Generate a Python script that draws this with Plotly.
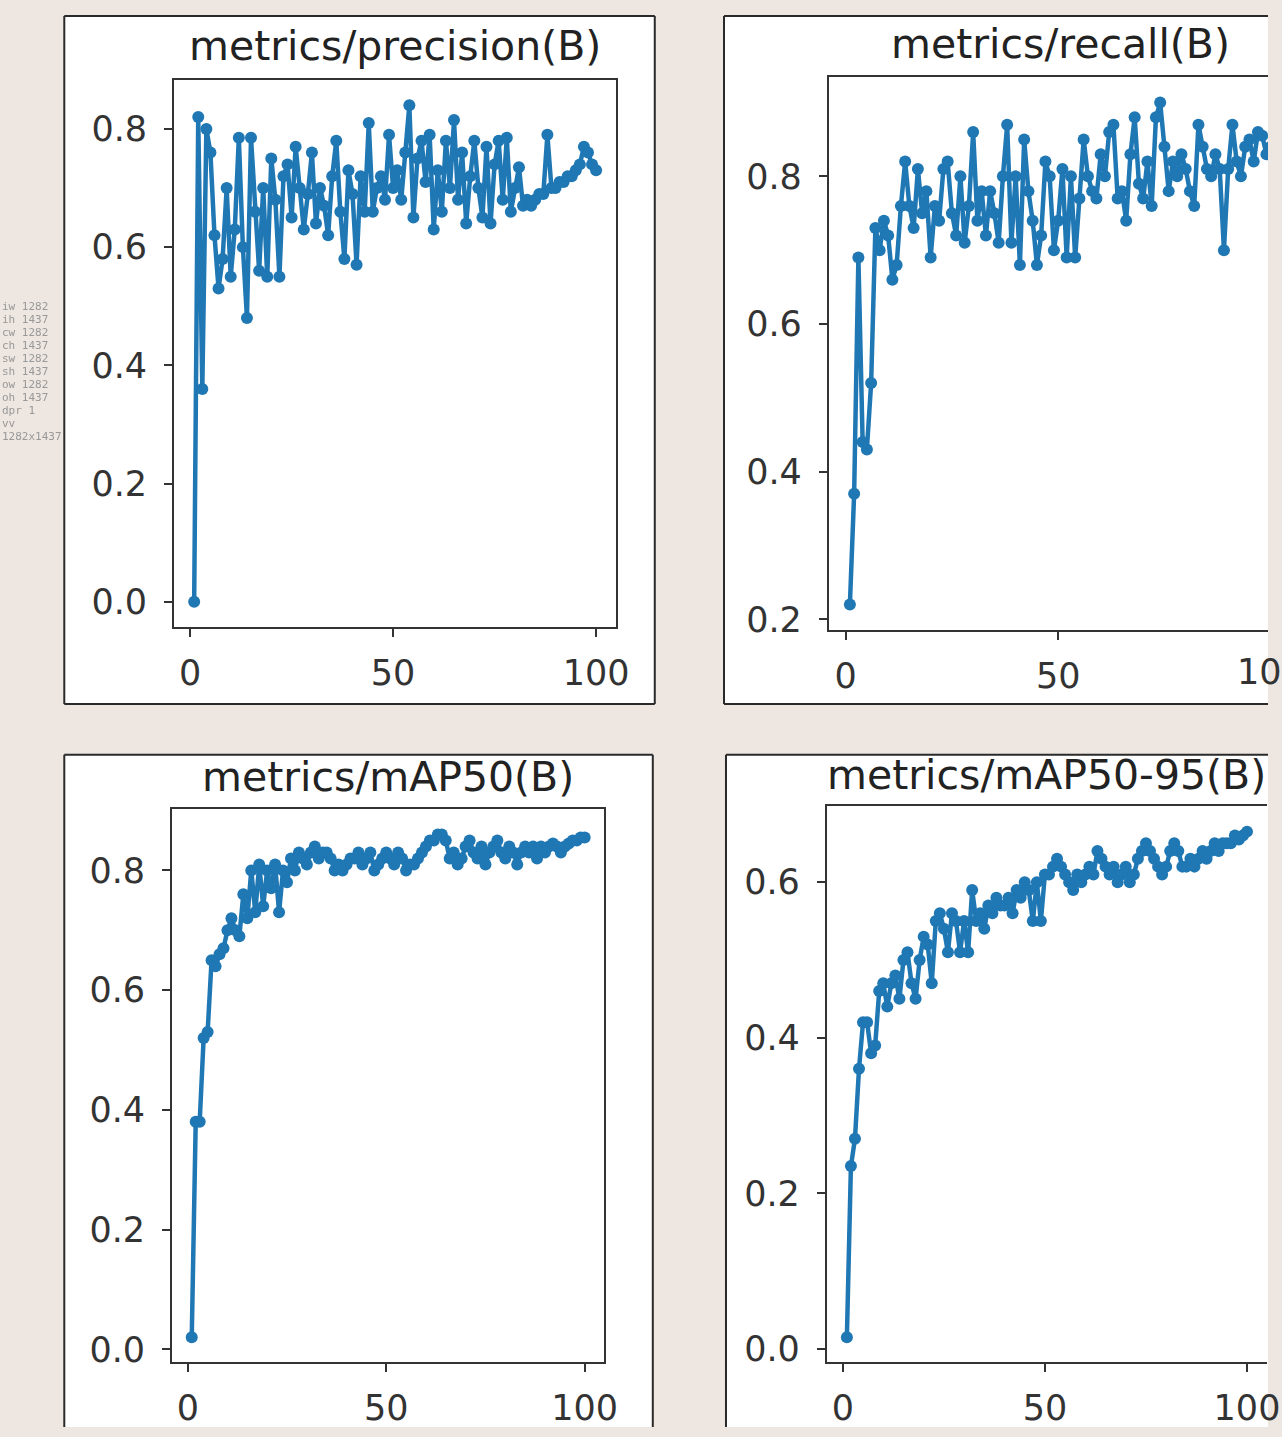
import plotly.graph_objects as go

W, H = 1282, 1437

epochs = list(range(1, 101))

precision = [
    0.00, 0.82, 0.36, 0.80, 0.76, 0.62, 0.53, 0.58, 0.70, 0.55,
    0.63, 0.785, 0.60, 0.48, 0.785, 0.66, 0.56, 0.70, 0.55, 0.75,
    0.68, 0.55, 0.72, 0.74, 0.65, 0.77, 0.70, 0.63, 0.69, 0.76,
    0.64, 0.70, 0.67, 0.62, 0.72, 0.78, 0.66, 0.58, 0.73, 0.69,
    0.57, 0.72, 0.66, 0.81, 0.66, 0.70, 0.72, 0.68, 0.79, 0.70,
    0.73, 0.68, 0.76, 0.84, 0.65, 0.75, 0.78, 0.71, 0.79, 0.63,
    0.73, 0.66, 0.78, 0.70, 0.815, 0.68, 0.76, 0.64, 0.72, 0.78,
    0.70, 0.65, 0.77, 0.64, 0.74, 0.78, 0.68, 0.785, 0.66, 0.70,
    0.735, 0.67, 0.68, 0.67, 0.68, 0.69, 0.69, 0.79, 0.70, 0.70,
    0.71, 0.71, 0.72, 0.72, 0.73, 0.74, 0.77, 0.76, 0.74, 0.73,
]

recall = [
    0.22, 0.37, 0.69, 0.44, 0.43, 0.52, 0.73, 0.70, 0.74, 0.72,
    0.66, 0.68, 0.76, 0.82, 0.76, 0.73, 0.81, 0.75, 0.78, 0.69,
    0.76, 0.74, 0.81, 0.82, 0.75, 0.72, 0.80, 0.71, 0.76, 0.86,
    0.74, 0.78, 0.72, 0.78, 0.75, 0.71, 0.80, 0.87, 0.71, 0.80,
    0.68, 0.85, 0.78, 0.74, 0.68, 0.72, 0.82, 0.80, 0.70, 0.74,
    0.81, 0.69, 0.80, 0.69, 0.77, 0.85, 0.80, 0.78, 0.77, 0.83,
    0.80, 0.86, 0.87, 0.77, 0.78, 0.74, 0.83, 0.88, 0.79, 0.77,
    0.82, 0.76, 0.88, 0.90, 0.84, 0.78, 0.82, 0.80, 0.83, 0.81,
    0.78, 0.76, 0.87, 0.84, 0.81, 0.80, 0.83, 0.81, 0.70, 0.81,
    0.87, 0.82, 0.80, 0.84, 0.85, 0.82, 0.86, 0.855, 0.83, 0.84,
]

map50 = [
    0.02, 0.38, 0.38, 0.52, 0.53, 0.65, 0.64, 0.66, 0.67, 0.70,
    0.72, 0.70, 0.69, 0.76, 0.72, 0.80, 0.73, 0.81, 0.74, 0.80,
    0.77, 0.81, 0.73, 0.80, 0.78, 0.82, 0.80, 0.83, 0.82, 0.81,
    0.83, 0.84, 0.82, 0.83, 0.83, 0.82, 0.80, 0.81, 0.80, 0.81,
    0.82, 0.82, 0.83, 0.81, 0.82, 0.83, 0.80, 0.81, 0.82, 0.83,
    0.82, 0.81, 0.83, 0.82, 0.80, 0.81, 0.81, 0.82, 0.83, 0.84,
    0.85, 0.85, 0.86, 0.86, 0.85, 0.82, 0.83, 0.81, 0.82, 0.84,
    0.85, 0.83, 0.82, 0.84, 0.81, 0.83, 0.84, 0.85, 0.83, 0.82,
    0.84, 0.83, 0.81, 0.83, 0.84, 0.83, 0.84, 0.82, 0.84, 0.83,
    0.84, 0.845, 0.84, 0.83, 0.84, 0.845, 0.85, 0.85, 0.855, 0.855,
]

map50_95 = [
    0.015, 0.235, 0.27, 0.36, 0.42, 0.42, 0.38, 0.39, 0.46, 0.47,
    0.44, 0.47, 0.48, 0.45, 0.50, 0.51, 0.47, 0.45, 0.50, 0.53,
    0.52, 0.47, 0.55, 0.56, 0.54, 0.51, 0.56, 0.55, 0.51, 0.55,
    0.51, 0.59, 0.55, 0.56, 0.54, 0.57, 0.56, 0.58, 0.57, 0.57,
    0.58, 0.56, 0.59, 0.58, 0.60, 0.59, 0.55, 0.60, 0.55, 0.61,
    0.61, 0.62, 0.63, 0.62, 0.61, 0.60, 0.59, 0.61, 0.60, 0.61,
    0.62, 0.61, 0.64, 0.63, 0.62, 0.61, 0.62, 0.60, 0.61, 0.62,
    0.60, 0.61, 0.63, 0.64, 0.65, 0.64, 0.63, 0.62, 0.61, 0.62,
    0.64, 0.65, 0.64, 0.62, 0.62, 0.63, 0.62, 0.63, 0.64, 0.63,
    0.64, 0.65, 0.64, 0.65, 0.65, 0.65, 0.66, 0.655, 0.66, 0.665,
]

titles = ["metrics/precision(B)", "metrics/recall(B)", "metrics/mAP50(B)", "metrics/mAP50-95(B)"]
series = [precision, recall, map50, map50_95]
x_ticks = [0, 50, 100]
y_ticks = [
    [0.0, 0.2, 0.4, 0.6, 0.8],
    [0.2, 0.4, 0.6, 0.8],
    [0.0, 0.2, 0.4, 0.6, 0.8],
    [0.0, 0.2, 0.4, 0.6],
]

BG = "#ede6e1"
BLUE = "#1f77b4"
AX = "#333333"
BOX = "#2a2a2a"
FONT = "DejaVu Sans"


def fx(px):
    return min(max(px / W, 0.0), 1.0)


def fy(py):
    return min(max(1 - py / H, 0.0), 1.0)


panels = [
    dict(box=(65, 16, 662, 709), plot=(176, 81, 623, 631), xr=(-3.95, 104.95), yr=(-0.042, 0.882), right=True),
    dict(box=(732, 16, 1400, 709), plot=(838, 78, 1306, 634), xr=(-3.95, 104.95), yr=(0.186, 0.934), right=False),
    dict(box=(65, 760, 660, 1500), plot=(174, 815, 611, 1372), xr=(-3.95, 104.95), yr=(-0.022, 0.902), right=True),
    dict(box=(734, 760, 1400, 1500), plot=(836, 812, 1281, 1372), xr=(-3.95, 104.95), yr=(-0.0175, 0.6975), right=False),
]
title_pos = [(399, 46), (1072, 44), (392, 782), (1058, 780)]

fig = go.Figure()
shapes = []
annotations = []
layout = {}


def seg(xa0, ya0, xa1, ya1):
    return dict(type="line", xref="paper", yref="paper",
                x0=fx(xa0), y0=fy(ya0), x1=fx(xa1), y1=fy(ya1),
                line=dict(color=BOX, width=2), layer="below")


for i, (p, ys, t) in enumerate(zip(panels, series, titles)):
    n = "" if i == 0 else str(i + 1)
    xa, ya = "x" + n, "y" + n
    fig.add_trace(go.Scatter(
        x=epochs, y=ys, xaxis=xa, yaxis=ya, mode="lines+markers",
        line=dict(color=BLUE, width=4.5),
        marker=dict(color=BLUE, size=12, symbol="circle"),
        showlegend=False, cliponaxis=True,
    ))
    x0, y0, x1, y1 = p["plot"]
    d0, d1 = x0 / W, x1 / W
    a, b = p["xr"]
    d1c = min(d1, 1.0)
    xmax = a + (b - a) * (d1c - d0) / (d1 - d0)
    layout["xaxis" + n] = dict(
        domain=[d0, d1c], range=[a, xmax], anchor=ya,
        tickvals=x_ticks, ticktext=[str(v) for v in x_ticks],
        ticks="outside", ticklen=8, tickwidth=2, tickcolor=AX,
        showline=True, linecolor=AX, linewidth=2, mirror=True,
        showgrid=False, zeroline=False,
        tickfont=dict(family=FONT, size=35, color=AX),
        ticklabelstandoff=6, ticklabeloverflow="allow",
    )
    layout["yaxis" + n] = dict(
        domain=[fy(y1), fy(y0)], range=list(p["yr"]), anchor=xa,
        tickvals=y_ticks[i], ticktext=["%.1f" % v for v in y_ticks[i]],
        ticks="outside", ticklen=8, tickwidth=2, tickcolor=AX,
        showline=True, linecolor=AX, linewidth=2, mirror=p["right"],
        showgrid=False, zeroline=False,
        tickfont=dict(family=FONT, size=35, color=AX),
        ticklabelstandoff=10,
    )
    bx0, by0, bx1, by1 = p["box"]
    shapes.append(dict(
        type="rect", xref="paper", yref="paper",
        x0=fx(bx0), x1=fx(bx1), y0=fy(by1), y1=fy(by0),
        fillcolor="white", line=dict(width=0), layer="below",
    ))
    ex, ey = min(bx1, W), min(by1, H)
    shapes.append(seg(bx0, by0, ex, by0))
    shapes.append(seg(bx0, by0, bx0, ey))
    if bx1 <= W:
        shapes.append(seg(bx1, by0, bx1, ey))
    if by1 <= H:
        shapes.append(seg(bx0, by1, ex, by1))
    tx, ty = title_pos[i]
    annotations.append(dict(
        text=t, xref="paper", yref="paper", x=tx / W, y=1 - ty / H,
        xanchor="center", yanchor="middle", showarrow=False,
        font=dict(family=FONT, size=41, color="#222222"),
    ))

annotations.append(dict(
    text=str(x_ticks[-1]), xref="paper", yref="paper", x=1285 / W, y=1 - 677 / H,
    xanchor="center", yanchor="middle", showarrow=False,
    font=dict(family=FONT, size=35, color=AX),
))

fig.update_layout(
    width=W, height=H, margin=dict(l=0, r=0, t=0, b=0),
    paper_bgcolor=BG, plot_bgcolor="white",
    shapes=shapes, annotations=annotations, showlegend=False,
    **layout,
)

# page setup; also writes the browser's window metrics in tiny grey text in the
# empty beige strip at the far left so the page size can be checked
fig.write_html(
    "out.html",
    config={"displayModeBar": False},
    post_script=(
        "document.body.style.margin='0px';"
        "document.body.style.background='" + BG + "';"
        "document.documentElement.style.overflow='hidden';"
        "document.body.style.overflow='hidden';"
        "var gd=document.getElementById('{plot_id}');gd.style.overflow='hidden';"
        "gd.querySelectorAll('.svg-container,.main-svg').forEach(function(e){e.style.overflow='hidden';});"
        "var de=document.documentElement;"
        "var info=['iw '+window.innerWidth,'ih '+window.innerHeight,'cw '+de.clientWidth,'ch '+de.clientHeight,"
        "'sw '+de.scrollWidth,'sh '+de.scrollHeight,'ow '+window.outerWidth,'oh '+window.outerHeight,"
        "'dpr '+window.devicePixelRatio,'vv '+(window.visualViewport?window.visualViewport.width+'x'+window.visualViewport.height:'-')];"
        "var d=document.createElement('div');d.style.cssText='position:fixed;left:2px;top:300px;font:11px monospace;color:#999;z-index:9;line-height:13px;width:60px;';"
        "d.innerHTML=info.join('<br>');document.body.appendChild(d);"
    ),
)
